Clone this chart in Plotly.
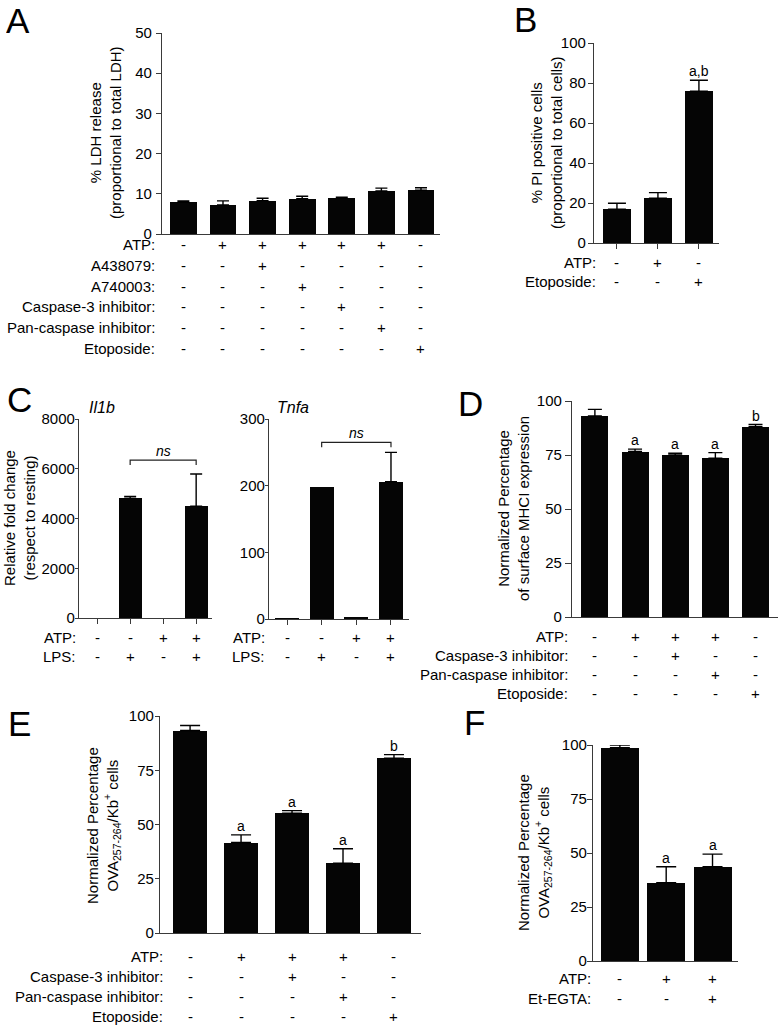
import plotly.graph_objects as go

W, H = 782, 1027

# ---------------- data ----------------
A_values = [7.9, 7.25, 8.3, 8.75, 9.0, 10.7, 10.9]
A_errors = [0.35, 1.0, 0.6, 0.65, 0.15, 0.7, 0.6]
A_rows = ["ATP:", "A438079:", "A740003:", "Caspase-3 inhibitor:", "Pan-caspase inhibitor:", "Etoposide:"]
A_signs = [
    ["-", "+", "+", "+", "+", "+", "-"],
    ["-", "-", "+", "-", "-", "-", "-"],
    ["-", "-", "-", "+", "-", "-", "-"],
    ["-", "-", "-", "-", "+", "-", "-"],
    ["-", "-", "-", "-", "-", "+", "-"],
    ["-", "-", "-", "-", "-", "-", "+"],
]
A_yticks = [0, 10, 20, 30, 40, 50]

B_values = [16.9, 22.4, 75.9]
B_errors = [3.0, 2.8, 5.5]
B_rows = ["ATP:", "Etoposide:"]
B_signs = [["-", "+", "-"], ["-", "-", "+"]]
B_letters = ["", "", "a,b"]
B_yticks = [0, 20, 40, 60, 80, 100]

C1_gene = "Il1b"
C1_values = [0, 4820, 0, 4490]
C1_errors = [0, 70, 0, 1300]
C1_yticks = [0, 2000, 4000, 6000, 8000]
C1_bracket = [1, 3, 6350]

C2_gene = "Tnfa"
C2_values = [1.5, 198, 3.5, 206]
C2_errors = [0, 0, 0, 44]
C2_yticks = [0, 100, 200, 300]
C2_bracket = [1, 3, 265]

C_rows = ["ATP:", "LPS:"]
C_signs = [["-", "-", "+", "+"], ["-", "+", "-", "+"]]

D_values = [93.1, 76.6, 75.0, 73.5, 88.1]
D_errors = [3.0, 1.1, 0.8, 2.6, 1.0]
D_letters = ["", "a", "a", "a", "b"]

E_values = [93.3, 41.7, 55.2, 32.2, 80.5]
E_errors = [2.3, 3.5, 1.2, 6.6, 1.7]
E_letters = ["", "a", "a", "a", "b"]

DE_rows = ["ATP:", "Caspase-3 inhibitor:", "Pan-caspase inhibitor:", "Etoposide:"]
DE_signs = [
    ["-", "+", "+", "+", "-"],
    ["-", "-", "+", "-", "-"],
    ["-", "-", "-", "+", "-"],
    ["-", "-", "-", "-", "+"],
]

F_values = [98.8, 36.3, 43.6]
F_errors = [1.2, 7.3, 5.9]
F_letters = ["", "a", "a"]
F_rows = ["ATP:", "Et-EGTA:"]
F_signs = [["-", "+", "+"], ["-", "-", "+"]]

Q_yticks = [0, 25, 50, 75, 100]

# ---------------- styling ----------------
FONT = "Liberation Sans, Arial, Helvetica, sans-serif"
FS = 15
AXC = "#3a3a3a"
BAR = "#050505"


def px_x(p):
    return p / W


def px_y(p):
    return 1 - p / H


fig = go.Figure()
annotations = []
shapes = []

panels = [
    dict(v=A_values, e=A_errors, yt=A_yticks, ymax=50, xd=(162, 440), yd=(33, 234), xr=(-0.54, 6.48), bw=0.68,
         xt=False, cap=6, tl=5, so=1, rows=A_rows, signs=A_signs, ry0=245, rdy=20.6, lr=157, letters=None),
    dict(v=B_values, e=B_errors, yt=B_yticks, ymax=100, xd=(594, 719), yd=(43, 243), xr=(-0.56, 2.49), bw=0.68,
         xt=True, cap=9, tl=5, so=-1, rows=B_rows, signs=B_signs, ry0=262, rdy=19.5, lr=598, letters=B_letters),
    dict(v=C1_values, e=C1_errors, yt=C1_yticks, ymax=8000, xd=(79, 212), yd=(419, 618), xr=(-0.55, 3.48), bw=0.7,
         xt=True, cap=6, tl=3, so=-3, rows=C_rows, signs=C_signs, ry0=637, rdy=19, lr=78, letters=None),
    dict(v=C2_values, e=C2_errors, yt=C2_yticks, ymax=300, xd=(269, 409), yd=(419, 619), xr=(-0.52, 3.52), bw=0.69,
         xt=True, cap=6, tl=3, so=-3, rows=C_rows, signs=C_signs, ry0=637, rdy=19, lr=267, letters=None),
    dict(v=D_values, e=D_errors, yt=Q_yticks, ymax=100, xd=(572, 778), yd=(401, 617), xr=(-0.57, 4.56), bw=0.67,
         xt=False, cap=7, tl=6, so=0, rows=DE_rows, signs=DE_signs, ry0=636, rdy=19.2, lr=570, letters=D_letters),
    dict(v=E_values, e=E_errors, yt=Q_yticks, ymax=100, xd=(160, 421), yd=(716, 933), xr=(-0.59, 4.53), bw=0.67,
         xt=False, cap=10, tl=4, so=-2, rows=DE_rows, signs=DE_signs, ry0=956, rdy=20, lr=165, letters=E_letters),
    dict(v=F_values, e=F_errors, yt=Q_yticks, ymax=100, xd=(593, 738), yd=(745, 961), xr=(-0.58, 2.55), bw=0.82,
         xt=False, cap=10, tl=5, so=-3, rows=F_rows, signs=F_signs, ry0=978, rdy=20, lr=593, letters=F_letters),
]

layout_axes = {}
for i, p in enumerate(panels):
    k = i + 1
    xa = "x" if k == 1 else f"x{k}"
    ya = "y" if k == 1 else f"y{k}"
    xs = list(range(len(p["v"])))
    fig.add_trace(go.Bar(
        x=xs, y=p["v"], xaxis=xa, yaxis=ya, width=p["bw"],
        marker=dict(color=BAR, line=dict(width=0)),
        showlegend=False, hoverinfo="skip",
    ))
    # upper error bars only where an error was plotted
    ex = [x for x, e in zip(xs, p["e"]) if e > 0]
    ev = [v for v, e in zip(p["v"], p["e"]) if e > 0]
    ee = [e for e in p["e"] if e > 0]
    fig.add_trace(go.Scatter(
        x=ex, y=ev, xaxis=xa, yaxis=ya, mode="markers",
        marker=dict(size=1, opacity=0),
        error_y=dict(type="data", symmetric=False, array=ee, arrayminus=[0] * len(ee),
                     color="#000000", thickness=1.4, width=p["cap"]),
        showlegend=False, hoverinfo="skip",
    ))
    xkey = "xaxis" if k == 1 else f"xaxis{k}"
    ykey = "yaxis" if k == 1 else f"yaxis{k}"
    layout_axes[xkey] = dict(
        domain=[px_x(p["xd"][0]), px_x(p["xd"][1])], anchor=ya, range=list(p["xr"]),
        showline=True, linecolor=AXC, linewidth=1.2, showgrid=False, zeroline=False,
        showticklabels=False, tickvals=xs, automargin=False, fixedrange=True,
        ticks="outside" if p["xt"] else "", ticklen=5, tickcolor=AXC, tickwidth=1.2,
    )
    layout_axes[ykey] = dict(
        domain=[px_y(p["yd"][1]), px_y(p["yd"][0])], anchor=xa, range=[0, p["ymax"]],
        showline=True, linecolor=AXC, linewidth=1.2, showgrid=False, zeroline=False,
        tickvals=p["yt"], ticks="outside", ticklen=p["tl"], tickcolor=AXC, tickwidth=1.2,
        ticklabelstandoff=p["so"], automargin=False, fixedrange=True,
        tickfont=dict(family=FONT, size=FS, color="black"),
    )
    # condition table
    for r, (lab, sg) in enumerate(zip(p["rows"], p["signs"])):
        yy = px_y(p["ry0"] + r * p["rdy"])
        annotations.append(dict(text=lab, xref="paper", yref="paper", x=px_x(p["lr"]), y=yy,
                                xanchor="right", yanchor="middle", showarrow=False,
                                font=dict(family=FONT, size=FS, color="black")))
        for j, s in enumerate(sg):
            annotations.append(dict(text=s, xref=xa, yref="paper", x=j, y=yy,
                                    xanchor="center", yanchor="middle", showarrow=False,
                                    font=dict(family=FONT, size=FS, color="black")))
    # significance letters
    if p["letters"]:
        for j, L in enumerate(p["letters"]):
            if L:
                annotations.append(dict(text=L, xref=xa, yref=ya, x=j, y=p["v"][j] + p["e"][j],
                                        xanchor="center", yanchor="bottom", showarrow=False, yshift=-1,
                                        font=dict(family=FONT, size=14, color="black")))

# brackets for panel C
for br, xa, ya, tick in [(C1_bracket, "x3", "y3", 200), (C2_bracket, "x4", "y4", 7.5)]:
    x0, x1, yb = br
    shapes.append(dict(type="path", xref=xa, yref=ya,
                       path=f"M {x0},{yb - tick} L {x0},{yb} L {x1},{yb} L {x1},{yb - tick}",
                       line=dict(color="#222", width=1.2)))
    annotations.append(dict(text="<i>ns</i>", xref=xa, yref=ya, x=(x0 + x1) / 2, y=yb,
                            xanchor="center", yanchor="bottom", showarrow=False, yshift=-1,
                            font=dict(family=FONT, size=14, color="black")))

# gene names
annotations.append(dict(text=f"<i>{C1_gene}</i>", xref="paper", yref="paper", x=px_x(87), y=px_y(407),
                        xanchor="left", yanchor="middle", showarrow=False,
                        font=dict(family=FONT, size=16, color="black")))
annotations.append(dict(text=f"<i>{C2_gene}</i>", xref="paper", yref="paper", x=px_x(275), y=px_y(407),
                        xanchor="left", yanchor="middle", showarrow=False,
                        font=dict(family=FONT, size=16, color="black")))

# y-axis titles
titles = [
    ("% LDH release<br>(proportional to total LDH)", 106, 133),
    ("% PI positive cells<br>(proportional to total cells)", 547, 143),
    ("Relative fold change<br>(respect to resting)", 19, 518),
    ("Normalized Percentage<br>of surface MHCI expression", 514, 509),
    ("Normalized Percentage<br>OVA<sub>257-264</sub>/Kb<sup>+</sup> cells", 103, 825),
    ("Normalized Percentage<br>OVA<sub>257-264</sub>/Kb<sup>+</sup> cells", 534, 853),
]
for t, cx, cy in titles:
    annotations.append(dict(text=t, xref="paper", yref="paper", x=px_x(cx), y=px_y(cy),
                            xanchor="center", yanchor="middle", showarrow=False, textangle=-90,
                            font=dict(family=FONT, size=FS, color="black")))

# panel letters
for L, cx, cy in [("A", 18, 20), ("B", 525, 19), ("C", 19, 399), ("D", 470, 403), ("E", 19, 723), ("F", 475, 722)]:
    annotations.append(dict(text=L, xref="paper", yref="paper", x=px_x(cx), y=px_y(cy),
                            xanchor="center", yanchor="middle", showarrow=False, height=30,
                            font=dict(family=FONT, size=35, color="black")))

fig.update_layout(
    width=W, height=H, margin=dict(l=0, r=0, t=0, b=0, pad=0, autoexpand=False),
    paper_bgcolor="white", plot_bgcolor="white", template="none",
    annotations=annotations, shapes=shapes, bargap=0,
    font=dict(family=FONT, size=FS, color="black"),
    **layout_axes,
)

fig.write_html("out.html", config=dict(displayModeBar=False),
               post_script="document.body.style.margin='0';document.body.style.overflow='hidden';")
